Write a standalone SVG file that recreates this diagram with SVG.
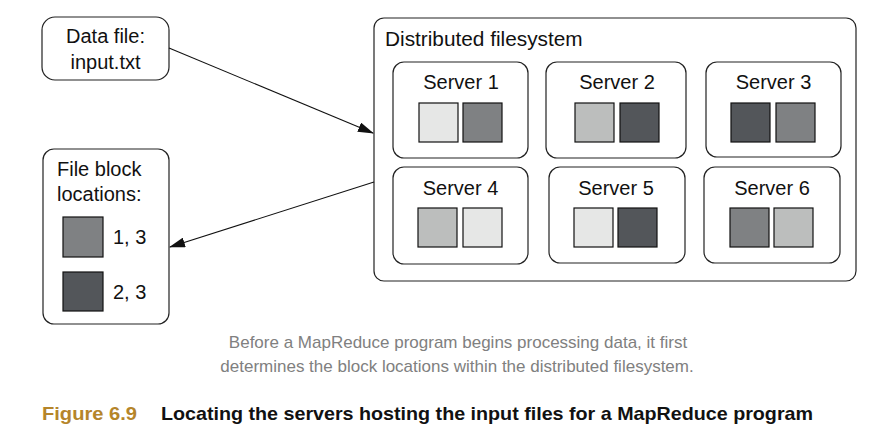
<svg xmlns="http://www.w3.org/2000/svg" width="872" height="434" viewBox="0 0 872 434">
<defs>
<style>
.box{fill:#fff;stroke:#222;stroke-width:1.2}
.t{font-family:"Liberation Sans",Arial,sans-serif;font-size:20px;fill:#111}
.tc{text-anchor:middle}
.sq{stroke:#111;stroke-width:1.2}
.c1{fill:#e6e7e6}.c2{fill:#bcbebd}.c3{fill:#7f8183}.c4{fill:#53565a}
.ln{stroke:#111;stroke-width:1.1;fill:none}
.cap{font-family:"Liberation Sans",Arial,sans-serif;font-size:17px;fill:#808080;text-anchor:middle}
.fig{font-family:"Liberation Sans",Arial,sans-serif;font-size:18.5px;font-weight:bold}
</style>
<marker id="ah" markerWidth="16" markerHeight="10" refX="15" refY="5" orient="auto" markerUnits="userSpaceOnUse">
<path d="M0,0 L16,5 L0,10 Z" fill="#111"/>
</marker>
</defs>
<rect width="872" height="434" fill="#fff"/>

<g id="data-file">
<rect class="box" x="42" y="17" width="127" height="63" rx="13"/>
<text class="t tc" x="105.5" y="43">Data file:</text>
<text class="t tc" x="105.5" y="69">input.txt</text>
</g>

<g id="file-block-locations">
<rect class="box" x="43" y="149" width="126" height="175" rx="11"/>
<text class="t" x="57" y="176">File block</text>
<text class="t" x="57" y="201">locations:</text>
<rect class="sq c3" x="63" y="217" width="40" height="40"/>
<text class="t" x="113" y="244">1, 3</text>
<rect class="sq c4" x="63" y="272" width="40" height="39"/>
<text class="t" x="113" y="299">2, 3</text>
</g>

<g id="distributed-filesystem">
<rect class="box" x="374" y="18" width="482" height="263" rx="10"/>
<text class="t" x="385" y="46" style="font-size:20.8px">Distributed filesystem</text>
</g>

<g id="server1">
<rect class="box" x="393" y="62" width="135" height="96" rx="11"/>
<text class="t tc" x="461" y="89">Server 1</text>
<rect class="sq c1" x="419" y="103" width="39" height="39"/>
<rect class="sq c3" x="463" y="103" width="39" height="39"/>
</g>
<g id="server2">
<rect class="box" x="546" y="62" width="140" height="96" rx="11"/>
<text class="t tc" x="617" y="89">Server 2</text>
<rect class="sq c2" x="575" y="103" width="39" height="39"/>
<rect class="sq c4" x="620" y="103" width="39" height="39"/>
</g>
<g id="server3">
<rect class="box" x="706" y="62" width="135" height="95" rx="11"/>
<text class="t tc" x="773.5" y="89">Server 3</text>
<rect class="sq c4" x="731" y="103" width="39" height="39"/>
<rect class="sq c3" x="776" y="103" width="39" height="39"/>
</g>
<g id="server4">
<rect class="box" x="393" y="167" width="135" height="97" rx="11"/>
<text class="t tc" x="460.5" y="195">Server 4</text>
<rect class="sq c2" x="418" y="208" width="39" height="39"/>
<rect class="sq c1" x="463" y="208" width="39" height="39"/>
</g>
<g id="server5">
<rect class="box" x="549" y="167" width="136" height="96" rx="11"/>
<text class="t tc" x="616" y="195">Server 5</text>
<rect class="sq c1" x="574" y="208" width="39" height="39"/>
<rect class="sq c4" x="618" y="208" width="39" height="39"/>
</g>
<g id="server6">
<rect class="box" x="704" y="167" width="136" height="96" rx="11"/>
<text class="t tc" x="772" y="195">Server 6</text>
<rect class="sq c3" x="730" y="208" width="39" height="39"/>
<rect class="sq c2" x="774" y="208" width="39" height="39"/>
</g>

<g id="connectors">
<line class="ln" x1="169" y1="48" x2="373" y2="133" marker-end="url(#ah)"/>
<line class="ln" x1="374" y1="182" x2="170" y2="247" marker-end="url(#ah)"/>
</g>

<g id="captions">
<text class="cap" x="458" y="348">Before a MapReduce program begins processing data, it first</text>
<text class="cap" x="457" y="372">determines the block locations within the distributed filesystem.</text>
<text class="fig" x="42" y="420" fill="#b5852a" textLength="95" lengthAdjust="spacingAndGlyphs">Figure 6.9</text>
<text class="fig" x="161" y="420" fill="#111" textLength="652" lengthAdjust="spacingAndGlyphs">Locating the servers hosting the input files for a MapReduce program</text>
</g>
</svg>
